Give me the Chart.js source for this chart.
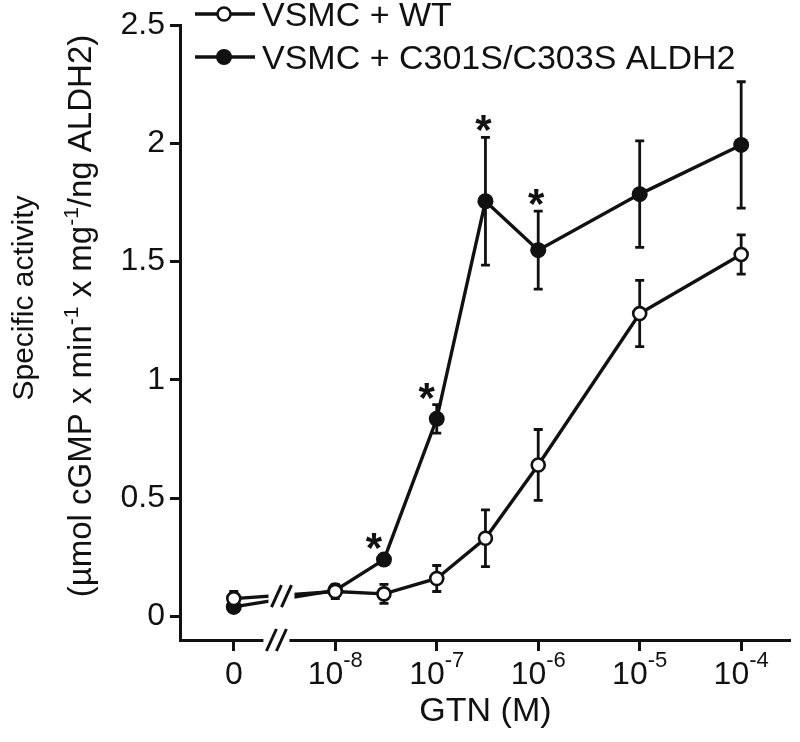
<!DOCTYPE html>
<html>
<head>
<meta charset="utf-8">
<script src="https://cdn.jsdelivr.net/npm/chart.js@4/dist/chart.umd.min.js"></script>
<style>
  html, body { margin: 0; padding: 0; background: #fff; }
  #wrap { width: 800px; height: 742px; }
</style>
</head>
<body>
<div id="wrap"><canvas id="chart" width="800" height="742"></canvas></div>
<script>
// GTN dose as log10(M); the "0" dose sits one decade left of 1e-8, behind the axis break
const doses = [-9, -8, -7.52, -7, -6.52, -6, -5, -4];

const wtMean  = [0.075, 0.105, 0.095, 0.16, 0.33, 0.64, 1.28, 1.53];
const wtErr   = [0.03, 0.03, 0.04, 0.055, 0.12, 0.15, 0.14, 0.083];
const mutMean = [0.04, 0.11, 0.24, 0.835, 1.755, 1.548, 1.785, 1.993];
const mutErr  = [0.02, 0.02, 0.02, 0.06, 0.27, 0.165, 0.225, 0.267];
const mutStar = [false, false, true, true, true, true, false, false];

const seriesNames = ['VSMC + WT', 'VSMC + C301S/C303S ALDH2'];

const xTicks = [-9, -8, -7, -6, -5, -4];
const xTickLabels = ['0', '10^-8', '10^-7', '10^-6', '10^-5', '10^-4'];
const yTicks = [0, 0.5, 1, 1.5, 2, 2.5];

const xTitle = 'GTN (M)';
const yTitle1 = 'Specific activity';
const yTitle2 = [['(µmol cGMP x min', 0], ['-1', 1], [' x mg', 0], ['-1', 1], ['/ng ALDH2)', 0]];

const FONT = '"Liberation Sans", Arial, Helvetica, sans-serif';
const INK = '#111';

// ── helpers ──────────────────────────
function slashes(ctx, cx, cy) {
  ctx.strokeStyle = INK;
  ctx.lineWidth = 3;
  [-5, 5].forEach(dx => {
    ctx.beginPath();
    ctx.moveTo(cx + dx - 5, cy + 11);
    ctx.lineTo(cx + dx + 5, cy - 11);
    ctx.stroke();
  });
}

const decorations = {
  id: 'decorations',
  beforeDatasetsDraw(chart) {
    // error bars, under the markers
    const { ctx, scales: { x, y } } = chart;
    ctx.save();
    ctx.strokeStyle = INK;
    ctx.lineWidth = 2.8;
    [[wtMean, wtErr], [mutMean, mutErr]].forEach(([m, e]) => {
      doses.forEach((d, i) => {
        const px = x.getPixelForValue(d);
        const top = y.getPixelForValue(m[i] + e[i]);
        const bot = y.getPixelForValue(m[i] - e[i]);
        ctx.beginPath();
        ctx.moveTo(px, top); ctx.lineTo(px, bot);
        ctx.moveTo(px - 4.5, top); ctx.lineTo(px + 4.5, top);
        ctx.moveTo(px - 4.5, bot); ctx.lineTo(px + 4.5, bot);
        ctx.stroke();
      });
    });
    ctx.restore();
  },
  afterDatasetsDraw(chart) {
    const { ctx, scales: { x, y } } = chart;
    ctx.save();
    // significance asterisks (nudged left where the curve climbs steeply)
    ctx.fillStyle = INK;
    ctx.font = `bold 42px ${FONT}`;
    ctx.textAlign = 'center';
    ctx.textBaseline = 'alphabetic';
    doses.forEach((d, i) => {
      if (!mutStar[i]) return;
      const steep = i < doses.length - 1 &&
        y.getPixelForValue(mutMean[i]) - y.getPixelForValue(mutMean[i + 1]) > 100;
      const px = x.getPixelForValue(d) + (steep ? -10 : -2);
      const top = y.getPixelForValue(mutMean[i] + mutErr[i]);
      ctx.fillText('*', px, top + 7);
    });
    // break mark on the data lines
    const bx = x.getPixelForValue(-8.53);
    const by = y.getPixelForValue(0.085);
    ctx.fillStyle = '#fff';
    ctx.fillRect(bx - 13, by - 12, 26, 24);
    slashes(ctx, bx, by);
    ctx.restore();
  },
  afterDraw(chart) {
    const { ctx, chartArea, scales: { x, y } } = chart;
    ctx.save();

    // axis break
    const ax = x.getPixelForValue(-8.58);
    ctx.fillStyle = '#fff';
    ctx.fillRect(ax - 13, chartArea.bottom - 4, 26, 8);
    slashes(ctx, ax, chartArea.bottom);

    // x tick labels with superscripts
    ctx.fillStyle = INK;
    ctx.textBaseline = 'alphabetic';
    ctx.textAlign = 'left';
    xTicks.forEach((v, i) => {
      const px = x.getPixelForValue(v);
      const [base, exp] = xTickLabels[i].split('^');
      ctx.font = `32px ${FONT}`;
      const wb = ctx.measureText(base).width;
      let we = 0;
      if (exp) { ctx.font = `22px ${FONT}`; we = ctx.measureText(exp).width; }
      const left = px - (wb + we) / 2;
      ctx.font = `32px ${FONT}`;
      ctx.fillText(base, left, 684);
      if (exp) { ctx.font = `22px ${FONT}`; ctx.fillText(exp, left + wb, 667); }
    });

    // y title, two rotated lines
    ctx.save();
    ctx.translate(33, 298);
    ctx.rotate(-Math.PI / 2);
    ctx.textAlign = 'center';
    ctx.font = `30px ${FONT}`;
    ctx.fillText(yTitle1, 0, 0);
    ctx.restore();

    ctx.save();
    ctx.translate(91, 316);
    ctx.rotate(-Math.PI / 2);
    ctx.textAlign = 'left';
    const fontOf = sup => sup ? `21px ${FONT}` : `33px ${FONT}`;
    let total = 0;
    yTitle2.forEach(([t, sup]) => { ctx.font = fontOf(sup); total += ctx.measureText(t).width; });
    let cx = -total / 2;
    yTitle2.forEach(([t, sup]) => {
      ctx.font = fontOf(sup);
      ctx.fillText(t, cx, sup ? -13 : 0);
      cx += ctx.measureText(t).width;
    });
    ctx.restore();

    // legend
    const rows = [14, 57];
    rows.forEach((ry, i) => {
      ctx.strokeStyle = INK;
      ctx.lineWidth = 3.4;
      ctx.beginPath();
      ctx.moveTo(195, ry); ctx.lineTo(255, ry);
      ctx.stroke();
      ctx.beginPath();
      ctx.arc(224, ry, i === 0 ? 6.5 : 8, 0, Math.PI * 2);
      ctx.fillStyle = i === 0 ? '#fff' : INK;
      ctx.fill();
      ctx.lineWidth = 2.5;
      if (i === 0) ctx.stroke();
      ctx.fillStyle = INK;
      ctx.font = `34px ${FONT}`;
      ctx.textAlign = 'left';
      ctx.fillText(seriesNames[i], 262, ry + 12);
    });

    ctx.restore();
  }
};

new Chart(document.getElementById('chart'), {
  type: 'line',
  data: {
    datasets: [
      {
        label: seriesNames[0],
        data: doses.map((d, i) => ({ x: d, y: wtMean[i] })),
        borderColor: INK, borderWidth: 3.4,
        pointRadius: 6.5, pointBorderWidth: 2.6,
        pointBackgroundColor: '#fff', pointBorderColor: INK,
        tension: 0, clip: false
      },
      {
        label: seriesNames[1],
        data: doses.map((d, i) => ({ x: d, y: mutMean[i] })),
        borderColor: INK, borderWidth: 3.4,
        pointRadius: 8, pointBorderWidth: 0,
        pointBackgroundColor: INK, pointBorderColor: INK,
        tension: 0, clip: false
      }
    ]
  },
  options: {
    responsive: false,
    animation: false,
    devicePixelRatio: 1,
    layout: { padding: { top: 25, right: 3, left: 0, bottom: 0 } },
    plugins: { legend: { display: false }, tooltip: { enabled: false } },
    scales: {
      x: {
        type: 'linear',
        min: -9.53, max: -3.51,
        afterBuildTicks: s => { s.ticks = xTicks.map(v => ({ value: v })); },
        afterFit: s => { s.height = 102; },
        ticks: { callback: () => '', autoSkip: false },
        grid: { drawOnChartArea: false, tickLength: 11, tickWidth: 3, tickColor: INK },
        border: { display: true, color: INK, width: 3 },
        title: {
          display: true, text: xTitle, color: INK,
          font: { family: FONT, size: 34 }, padding: { top: 0, bottom: 10 }
        }
      },
      y: {
        type: 'linear',
        min: -0.1, max: 2.5,
        afterBuildTicks: s => { s.ticks = yTicks.map(v => ({ value: v })); },
        afterFit: s => { s.width = 180; },
        ticks: { color: INK, font: { family: FONT, size: 32 }, padding: 5, callback: v => String(v) },
        grid: { drawOnChartArea: false, tickLength: 10, tickWidth: 3, tickColor: INK },
        border: { display: true, color: INK, width: 3 }
      }
    }
  },
  plugins: [decorations]
});
</script>
</body>
</html>
